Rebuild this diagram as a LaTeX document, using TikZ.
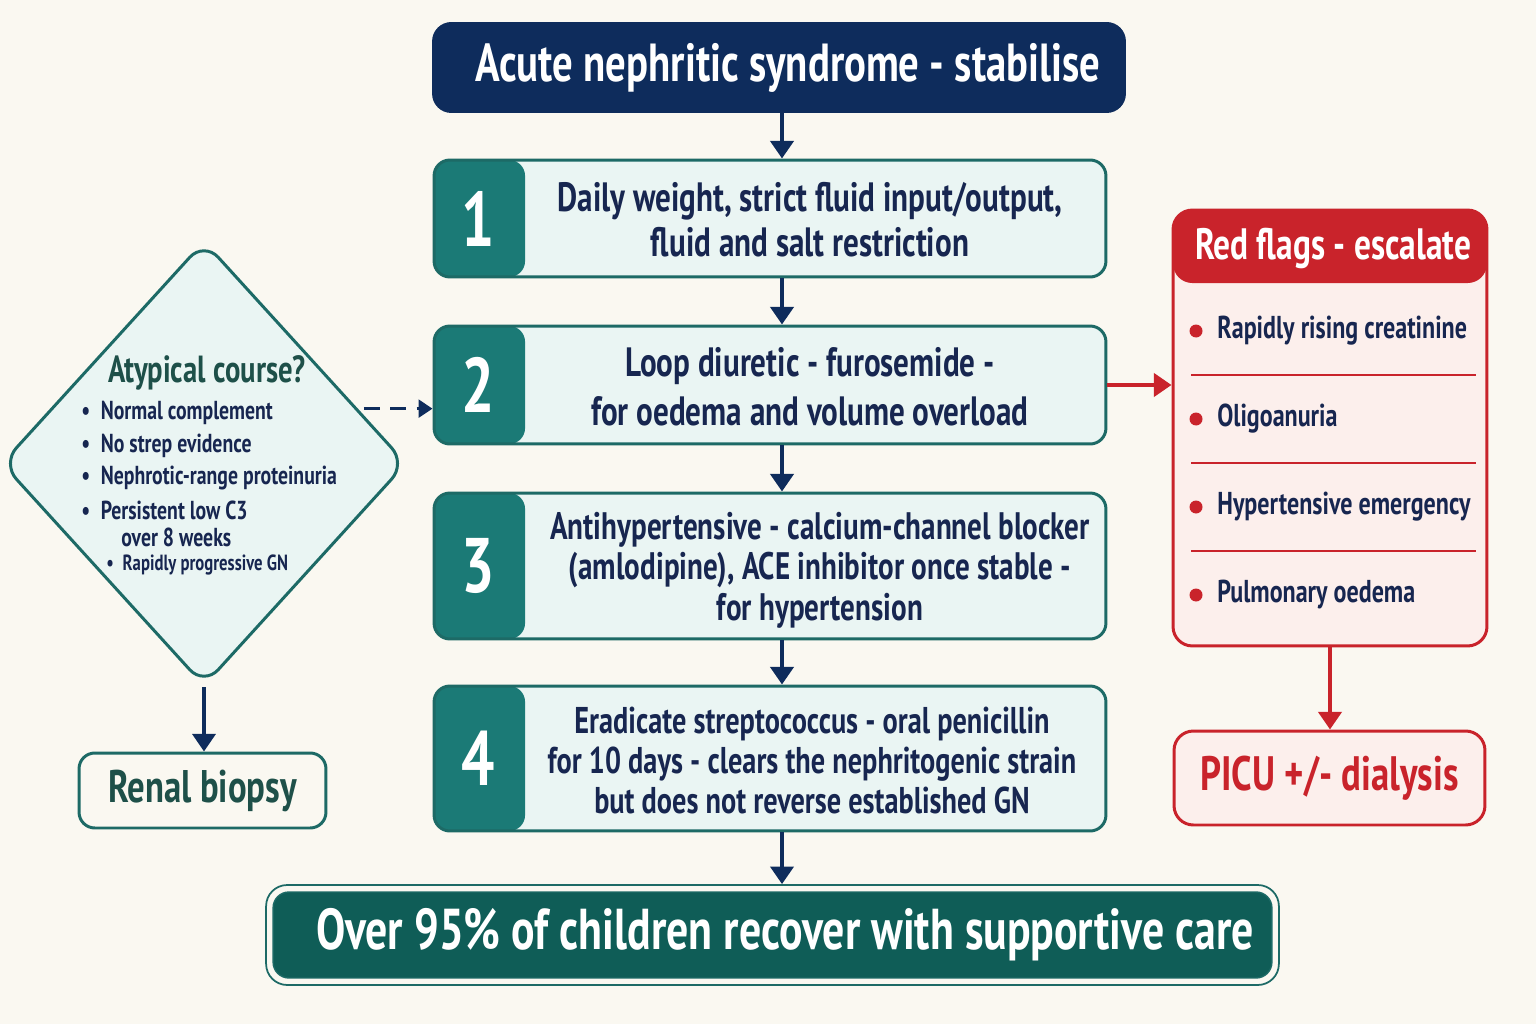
\documentclass[tikz,border=0pt]{standalone}
\usepackage{fontspec}
\setmainfont{PT Sans}[FakeStretch=0.76]
\usetikzlibrary{shapes.geometric,arrows.meta,calc}
\definecolor{bg}{HTML}{FAF8F1}
\definecolor{navy}{HTML}{0E2C5C}
\definecolor{ink}{HTML}{172650}
\definecolor{tealM}{HTML}{1B7A76}
\definecolor{tealD}{HTML}{1D6A66}
\definecolor{tealL}{HTML}{EAF5F3}
\definecolor{tealB}{HTML}{0F5D57}
\definecolor{tealT}{HTML}{1E5049}
\definecolor{redM}{HTML}{C9232B}
\definecolor{redL}{HTML}{FCEFEC}
\begin{document}
\begin{tikzpicture}[x=0.02cm,y=-0.02cm,
  arr/.style={draw=navy, line width=2.8pt, -{Triangle[length=10pt,width=13pt]}},
  rarr/.style={draw=redM, line width=2.4pt, -{Triangle[length=10pt,width=13pt]}},
  stepbox/.style={draw=tealD, line width=1.7pt, fill=tealL, rounded corners=9pt,
    minimum width=13.44cm, inner sep=0pt,
    path picture={\fill[tealM] (path picture bounding box.north west) rectangle ([xshift=1.82cm]path picture bounding box.south west);}},
  num/.style={font=\bfseries\fontsize{44}{44}\selectfont, text=white},
  body/.style={text=ink, align=center, inner sep=0pt},
  dtxt/.style={font=\bfseries\fontsize{14.8}{17}\selectfont, text=ink, anchor=west, inner sep=0pt},
  rtxt/.style={font=\bfseries\fontsize{18}{20}\selectfont, text=ink, anchor=west, inner sep=0pt},
  sep/.style={draw=redM, line width=0.6pt},
]
\useasboundingbox (0,0) rectangle (1536,1024);
\fill[bg] (0,0) rectangle (1536,1024);

% title
\node[fill=navy, rounded corners=11pt, minimum width=13.88cm, minimum height=1.82cm,
  text=white, font=\bfseries\fontsize{30.5}{30.5}\selectfont] (title) at (779,67.5) {\hspace{0.35cm}Acute nephritic syndrome - stabilise};

% steps
\node[stepbox, minimum height=2.34cm] (b1) at (770,218.5) {};
\node[stepbox, minimum height=2.36cm] (b2) at (770,385) {};
\node[stepbox, minimum height=2.92cm] (b3) at (770,566) {};
\node[stepbox, minimum height=2.90cm] (b4) at (770,758.5) {};

\node[num] (n1) at ($(b1.west)+(45.5,0)$) {1};
\node[num] (n2) at ($(b2.west)+(45.5,0)$) {2};
\node[num] (n3) at ($(b3.west)+(45.5,0)$) {3};
\node[num] (n4) at ($(b4.west)+(45.5,0)$) {4};

\node[body, font=\bfseries\fontsize{23.3}{25.6}\selectfont] (t1) at ($(b1.center)+(40,1)$) {Daily weight, strict fluid input/output,\\fluid and salt restriction};
\node[body, font=\bfseries\fontsize{23.3}{25.6}\selectfont] (t2) at ($(b2.center)+(40,2)$) {Loop diuretic - furosemide -\\[2.5pt]for oedema and volume overload};
\node[body, font=\bfseries\fontsize{21.8}{23}\selectfont] (t3) at ($(b3.center)+(50,4)$) {Antihypertensive - calcium-channel blocker\\(amlodipine), ACE inhibitor once stable -\\for hypertension};
\node[body, font=\bfseries\fontsize{21.2}{23}\selectfont] (t4) at ($(b4.center)+(42,2)$) {Eradicate streptococcus - oral penicillin\\for 10 days - clears the nephritogenic strain\\but does not reverse established GN};

% outcome
\node[draw=tealD, line width=1pt, fill=bg, rounded corners=12pt, minimum width=20.26cm, minimum height=2.0cm] (outer) at (772.5,935) {};
\node[fill=tealB, draw=tealD, line width=0.8pt, rounded corners=9pt, minimum width=19.98cm, minimum height=1.72cm,
  text=white, font=\bfseries\fontsize{32.8}{32.8}\selectfont] (out) at (772.5,935) {\hspace{0.5cm}Over 95\% of children recover with supportive care};

% arrows main
\coordinate (ax) at (782,0);
\draw[arr] (title.south -| ax) -- (b1.north -| ax);
\draw[arr] (b1.south -| ax) -- (b2.north -| ax);
\draw[arr] (b2.south -| ax) -- (b3.north -| ax);
\draw[arr] (b3.south -| ax) -- (b4.north -| ax);
\draw[arr] (b4.south -| ax) -- (outer.north -| ax);

% diamond
\node[shape=diamond, draw=tealD, fill=tealL, line width=1.7pt, rounded corners=12pt,
  minimum width=8.1cm, minimum height=8.9cm, inner sep=0pt] (dia) at (204,463.5) {};
\node[font=\bfseries\fontsize{21.5}{21.5}\selectfont, text=tealT] (dt) at (207,373) {Atypical course?};
\node[dtxt] (d1) at (81,413) {•\hspace{6pt}Normal complement};
\node[dtxt] (d2) at (81,446) {•\hspace{6pt}No strep evidence};
\node[dtxt] (d3) at (81,478) {•\hspace{6pt}Nephrotic-range proteinuria};
\node[dtxt] (d4) at (81,510) {•\hspace{6pt}Persistent low C3};
\node[dtxt] (d5) at (121,537) {over 8 weeks};
\node[dtxt, font=\bfseries\fontsize{12.5}{14}\selectfont] (d6) at (106,565) {•\hspace{5pt}Rapidly progressive GN};

\coordinate (dstart) at ($(dia.north east)!0.51!(dia.east)$);
\draw[draw=navy, line width=2pt, dash pattern=on 9pt off 6pt, -{Triangle[length=8pt,width=10pt]}] ([xshift=0.12cm]dstart) -- (dstart -| b2.west);

% renal biopsy
\node[draw=tealD, line width=1.7pt, fill=bg, rounded corners=9pt, minimum width=4.94cm, minimum height=1.5cm,
  text=tealT, font=\bfseries\fontsize{26}{26}\selectfont] (renal) at (202.5,790.5) {Renal biopsy};
\draw[arr, line width=2.2pt] (dia.south) -- (dia.south |- renal.north);

% red flags
\node[draw=redM, line width=1.7pt, fill=redL, rounded corners=11pt, minimum width=6.28cm, minimum height=8.72cm, inner sep=0pt,
  path picture={\fill[redM] (path picture bounding box.north west) rectangle ([yshift=-1.46cm]path picture bounding box.north east);}] (flags) at (1330,428) {};
\node[text=white, font=\bfseries\fontsize{25}{25}\selectfont] (fh) at (1333,248) {Red flags - escalate};
\foreach \yy/\tx/\nm in {331/Rapidly rising creatinine/r1, 419/Oligoanuria/r2, 507/Hypertensive emergency/r3, 595/Pulmonary oedema/r4}{
  \fill[redM] (1196,\yy) circle (6.5);
  \node[rtxt] (\nm) at (1217,\yy) {\tx};
}
\foreach \yy in {375,463,551}{\draw[sep] (1191,\yy) -- (1476,\yy);}

\draw[rarr] (b2.east) -- (b2.east -| flags.west);

% PICU
\node[draw=redM, line width=1.7pt, fill=redL, rounded corners=11pt, minimum width=6.22cm, minimum height=1.88cm,
  text=redM, font=\bfseries\fontsize{27.5}{27.5}\selectfont] (picu) at (1329.5,778) {PICU +/- dialysis};
\draw[rarr] (flags.south) -- (flags.south |- picu.north);
\end{tikzpicture}
\end{document}
